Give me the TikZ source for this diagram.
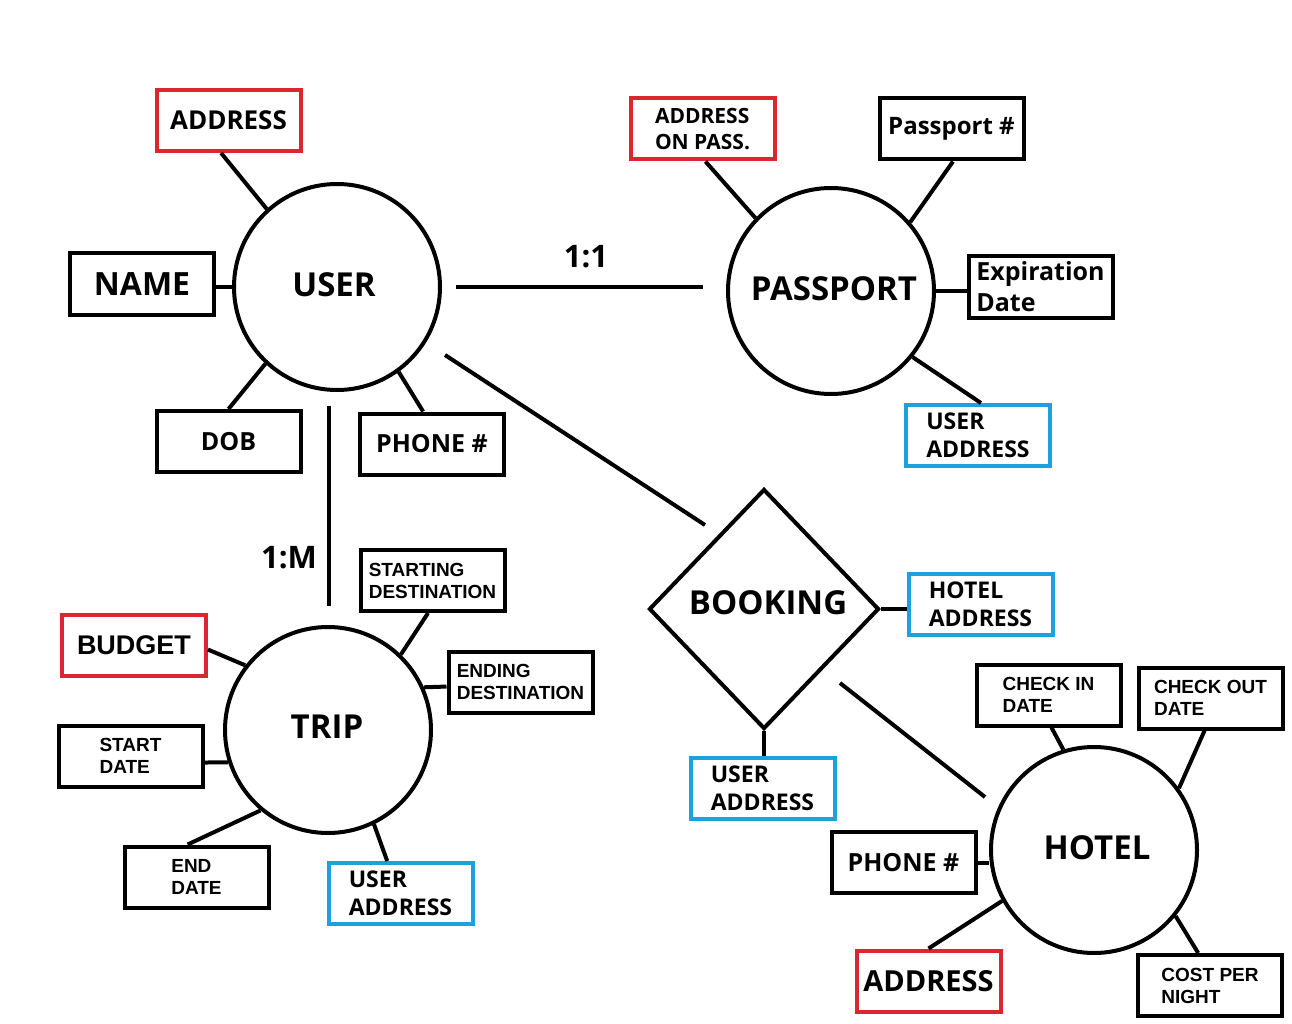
\documentclass[tikz,border=0pt]{standalone}
\usepackage{fontspec}
\usetikzlibrary{shapes.geometric,calc}
\newfontfamily\seg{Open Sans}[BoldFont={Open Sans Bold}]
\newfontfamily\ari{Liberation Sans}
\definecolor{attrred}{RGB}{218,38,48}
\definecolor{attrblue}{RGB}{28,160,222}
\newcommand{\fs}[2]{\fontsize{#1}{#2}\selectfont}
\begin{document}
\begin{tikzpicture}[x=1pt,y=-1pt,
  ent/.style={circle,draw,line width=4,minimum size=206,inner sep=0},
  attr/.style={draw,line width=4,minimum width=144,minimum height=61,inner sep=0,align=left},
  redattr/.style={attr,draw=attrred},
  blueattr/.style={attr,draw=attrblue},
  conn/.style={line width=4},
  segb/.style={font=\seg\bfseries\fs{#1}{#1}},
  arib/.style={font=\ari\bfseries\fs{19}{22}}]
\useasboundingbox (0,0) rectangle (1292,1024);
\fill[white] (0,0) rectangle (1292,1024);

% entities
\node[ent] (user) at (337,287) {};
\node[segb=33] (usert) at (334,285) {USER};
\node[ent] (passport) at (831,291) {};
\node[segb=33] (passportt) at (834,289) {PASSPORT};
\node[ent] (trip) at (328,730) {};
\node[segb=33] (tript) at (327,727) {TRIP};
\node[ent] (hotel) at (1094,850) {};
\node[segb=33] (hotelt) at (1097,848) {HOTEL};
\node[diamond,draw,line width=4,minimum width=230,minimum height=240,inner sep=0] (booking) at (764,609) {};
\node[segb=33] (bookingt) at (768,603) {BOOKING};

% USER attributes
\node[redattr,segb=26] (adr1) at (228.5,120.5) {ADDRESS};
\node[attr,segb=32] (name) at (142,284) {NAME};
\node[attr,segb=25] (dob) at (228.5,441.5) {DOB};
\node[attr,segb=25] (ph1) at (432,444) {PHONE \#};

% PASSPORT attributes
\node[redattr,font=\seg\bfseries\fs{21}{26}] (adp) at (702.5,129) {ADDRESS\\ON PASS.};
\node[attr,segb=24] (pno) at (951.5,129) {Passport \#};
\node[attr,font=\seg\bfseries\fs{25}{31}] (exp) at (1040.5,287) {Expiration\\Date};
\node[blueattr,font=\seg\bfseries\fs{23}{28}] (ua1) at (978,435.5) {USER\\ADDRESS};

% TRIP attributes
\node[attr,arib] (sd) at (432.5,580.5) {STARTING\\DESTINATION};
\node[redattr,font=\ari\bfseries\fs{27}{27}] (bud) at (134,645) {BUDGET};
\node[attr,arib] (ed) at (520.5,682) {ENDING\\DESTINATION};
\node[attr,arib] (std) at (130.5,756) {START\\DATE};
\node[attr,arib] (endd) at (196.5,877) {END\\DATE};
\node[blueattr,font=\seg\bfseries\fs{23}{28}] (ua2) at (400.5,893.5) {USER\\ADDRESS};

% BOOKING attributes
\node[blueattr,font=\seg\bfseries\fs{23}{28}] (ha) at (980.5,604.5) {HOTEL\\ADDRESS};
\node[blueattr,font=\seg\bfseries\fs{23}{28}] (ua3) at (762.5,788) {USER\\ADDRESS};

% HOTEL attributes
\node[attr,arib] (ci) at (1048.5,695) {CHECK IN\\DATE};
\node[attr,arib] (co) at (1210.5,698) {CHECK OUT\\DATE};
\node[attr,segb=25] (ph2) at (903.5,862.5) {PHONE \#};
\node[redattr,segb=29] (adr2) at (928.5,981) {ADDRESS};
\node[attr,arib] (cpn) at (1210,985.5) {COST PER\\NIGHT};

% cardinality labels
\node[segb=31] (l11) at (586,257) {1:1};
\node[segb=31] (l1m) at (289,558) {1:M};

% relationship connectors
\coordinate (up1) at (456,287);
\coordinate (up2) at (703,287);
\draw[conn] (up1) -- (up2);
\coordinate (ub1) at (445,355);
\coordinate (ub2) at (705,525);
\draw[conn] (ub1) -- (ub2);
\coordinate (ut1) at (329,406);
\coordinate (ut2) at (329,606);
\draw[conn] (ut1) -- (ut2);
\coordinate (bh1) at (840,683);
\coordinate (bh2) at (985,797);
\draw[conn] (bh1) -- (bh2);

% USER connectors
\draw[conn] ($(adr1.south west)!0.45!(adr1.south east)$) -- (user.132);
\draw[conn] (user.west) -- (user.west -| name.east);
\draw[conn] (dob.north) -- (user.-133);
\draw[conn] ($(ph1.north west)!0.44!(ph1.north east)$) -- (user.-54);

% PASSPORT connectors
\draw[conn] ($(adp.south west)!0.52!(adp.south east)$) -- (passport.136);
\draw[conn] ($(pno.south west)!0.51!(pno.south east)$) -- (passport.41);
\draw[conn] (passport.east) -- (passport.east -| exp.west);
\draw[conn] ($(ua1.north west)!0.52!(ua1.north east)$) -- (passport.-39);

% TRIP connectors
\draw[conn] ($(sd.south west)!0.47!(sd.south east)$) -- (trip.46);
\draw[conn] ($(bud.north east)!0.57!(bud.south east)$) -- (trip.142);
\draw[conn] ($(ed.north west)!0.57!(ed.south west)$) -- (trip.24);
\draw[conn] ($(std.north east)!0.6!(std.south east)$) -- (trip.-162);
\draw[conn] ($(endd.north west)!0.44!(endd.north east)$) -- (trip.-130);
\draw[conn] ($(ua2.north west)!0.41!(ua2.north east)$) -- (trip.-64);

% BOOKING connectors
\draw[conn] (booking.east) -- (booking.east -| ha.west);
\draw[conn] (booking.south) -- (booking.south |- ua3.north);

% HOTEL connectors
\draw[conn] ($(ci.south west)!0.52!(ci.south east)$) -- (hotel.107);
\draw[conn] ($(co.south west)!0.46!(co.south east)$) -- (hotel.36);
\draw[conn] (ph2.east) -- (ph2.east -| hotel.west);
\draw[conn] (adr2.north) -- (hotel.-151);
\draw[conn] ($(cpn.north west)!0.42!(cpn.north east)$) -- (hotel.-39);
\end{tikzpicture}
\end{document}
